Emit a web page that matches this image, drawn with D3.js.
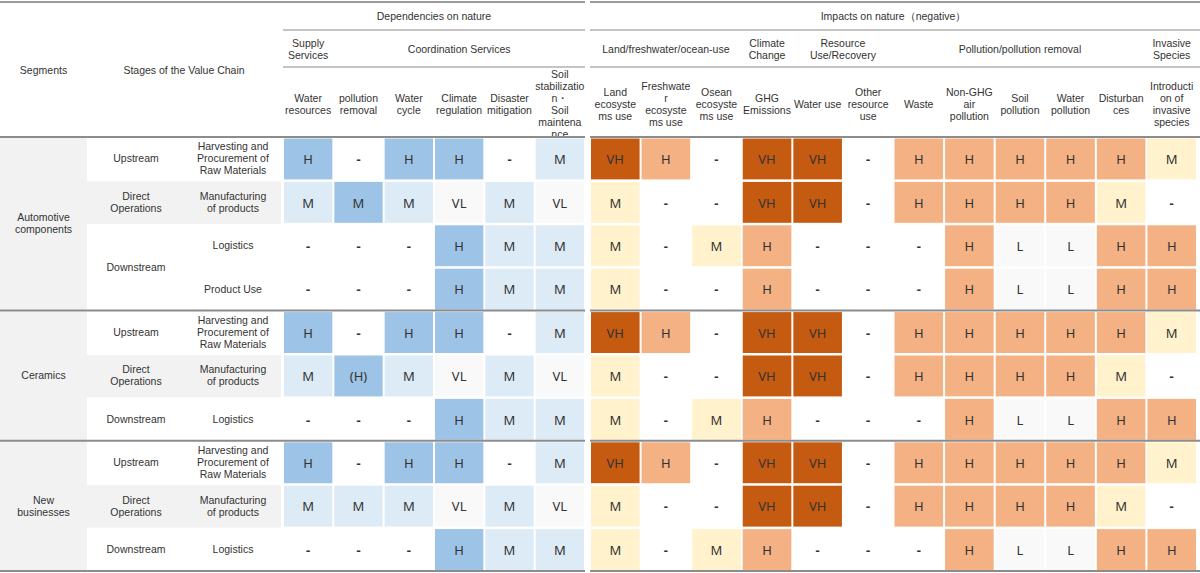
<!DOCTYPE html>
<html lang="en">
<head>
  <meta charset="UTF-8">
  <title>Dependencies and impacts on nature</title>
  <script src="https://d3js.org/d3.v7.min.js"></script>
  <style>
    body { margin: 0; background: #fff; }
    svg { display: block; }
    .lbl { font-family: "Liberation Sans", Arial, sans-serif; font-size: 10.5px; fill: #333; }
    .val { font-family: "Noto Sans", sans-serif; font-size: 13px; fill: #333; }
  </style>
</head>
<body>
  <svg width="1200" height="573"></svg>

  <script>
    // ---- data ----
    const segments = ["Automotive components", "Ceramics", "New businesses"];
    const segmentLines = [["Automotive", "components"], ["Ceramics"], ["New", "businesses"]];

    const rowSegment = [0, 0, 0, 0, 1, 1, 1, 2, 2, 2];
    const rowStage = ["Upstream", "Direct Operations", "Downstream", "Downstream",
                      "Upstream", "Direct Operations", "Downstream",
                      "Upstream", "Direct Operations", "Downstream"];
    const rowActivity = ["Harvesting and Procurement of Raw Materials", "Manufacturing of products", "Logistics", "Product Use",
                         "Harvesting and Procurement of Raw Materials", "Manufacturing of products", "Logistics",
                         "Harvesting and Procurement of Raw Materials", "Manufacturing of products", "Logistics"];

    const stageLines = {
      "Upstream": ["Upstream"],
      "Direct Operations": ["Direct", "Operations"],
      "Downstream": ["Downstream"]
    };
    const activityLines = {
      "Harvesting and Procurement of Raw Materials": ["Harvesting and", "Procurement of", "Raw Materials"],
      "Manufacturing of products": ["Manufacturing", "of products"],
      "Logistics": ["Logistics"],
      "Product Use": ["Product Use"]
    };

    const depGroups = [
      { name: ["Supply", "Services"], span: 1 },
      { name: ["Coordination Services"], span: 5 }
    ];
    const depColumns = [
      ["Water", "resources"], ["pollution", "removal"], ["Water", "cycle"],
      ["Climate", "regulation"], ["Disaster", "mitigation"],
      ["Soil", "stabilizatio", "n・", "Soil", "maintena", "nce"]
    ];

    const impGroups = [
      { name: ["Land/freshwater/ocean-use"], span: 3 },
      { name: ["Climate", "Change"], span: 1 },
      { name: ["Resource", "Use/Recovery"], span: 2 },
      { name: ["Pollution/pollution removal"], span: 5 },
      { name: ["Invasive", "Species"], span: 1 }
    ];
    const impColumns = [
      ["Land", "ecosyste", "ms use"], ["Freshwate", "r", "ecosyste", "ms use"], ["Osean", "ecosyste", "ms use"],
      ["GHG", "Emissions"], ["Water use"], ["Other", "resource", "use"],
      ["Waste"], ["Non-GHG", "air", "pollution"], ["Soil", "pollution"], ["Water", "pollution"],
      ["Disturban", "ces"], ["Introducti", "on of", "invasive", "species"]
    ];

    const depValues = [
      ["H", "-", "H", "H", "-", "M"],
      ["M", "M", "M", "VL", "M", "VL"],
      ["-", "-", "-", "H", "M", "M"],
      ["-", "-", "-", "H", "M", "M"],
      ["H", "-", "H", "H", "-", "M"],
      ["M", "(H)", "M", "VL", "M", "VL"],
      ["-", "-", "-", "H", "M", "M"],
      ["H", "-", "H", "H", "-", "M"],
      ["M", "M", "M", "VL", "M", "VL"],
      ["-", "-", "-", "H", "M", "M"]
    ];
    // cells whose shading differs from the letter shown
    const depShadeOverride = [{ row: 1, col: 1, level: "H" }];

    const impValues = [
      ["VH", "H", "-", "VH", "VH", "-", "H", "H", "H", "H", "H", "M"],
      ["M", "-", "-", "VH", "VH", "-", "H", "H", "H", "H", "M", "-"],
      ["M", "-", "M", "H", "-", "-", "-", "H", "L", "L", "H", "H"],
      ["M", "-", "-", "H", "-", "-", "-", "H", "L", "L", "H", "H"],
      ["VH", "H", "-", "VH", "VH", "-", "H", "H", "H", "H", "H", "M"],
      ["M", "-", "-", "VH", "VH", "-", "H", "H", "H", "H", "M", "-"],
      ["M", "-", "M", "H", "-", "-", "-", "H", "L", "L", "H", "H"],
      ["VH", "H", "-", "VH", "VH", "-", "H", "H", "H", "H", "H", "M"],
      ["M", "-", "-", "VH", "VH", "-", "H", "H", "H", "H", "M", "-"],
      ["M", "-", "M", "H", "-", "-", "-", "H", "L", "L", "H", "H"]
    ];

    const depColor = { "H": "#9dc3e6", "(H)": "#9dc3e6", "M": "#ddebf7", "VL": "#f9f9f9", "-": "#ffffff" };
    const impColor = { "VH": "#c55a11", "H": "#f4b183", "M": "#fff2cc", "L": "#f9f9f9", "-": "#ffffff" };

    // ---- layout ----
    const svg = d3.select("svg");
    const headTop = 2, headBottom = 137, bodyBottom = 571;
    const lvl1Bottom = 30, lvl2Bottom = 67;
    const lh = 12;

    const y = d3.scaleBand().domain(d3.range(rowSegment.length)).range([headBottom, bodyBottom]);
    const xDep = d3.scaleBand().domain(d3.range(depColumns.length)).range([283, 585]);
    const xImp = d3.scaleBand().domain(d3.range(impColumns.length)).range([590, 1197]);

    const segX = [0, 87], stageX = [87, 185], actX = [185, 281];

    function multiline(g, lines, cx, cy, cls) {
      const t = g.append("text")
        .attr("class", cls)
        .attr("text-anchor", "middle");
      const y0 = cy - (lines.length - 1) * lh / 2;
      lines.forEach((l, i) => {
        t.append("tspan").attr("x", cx).attr("y", y0 + i * lh).attr("dy", "0.35em").text(l);
      });
      return t;
    }

    // segment spans
    const segSpans = segments.map((s, i) => {
      const idx = d3.range(rowSegment.length).filter(r => rowSegment[r] === i);
      return { seg: i, first: idx[0], last: idx[idx.length - 1] };
    });

    // stage spans (consecutive equal stages inside a segment)
    const stageSpans = [];
    rowStage.forEach((s, r) => {
      const prev = stageSpans[stageSpans.length - 1];
      if (prev && prev.stage === s && rowSegment[prev.first] === rowSegment[r]) prev.last = r;
      else stageSpans.push({ stage: s, first: r, last: r });
    });

    const body = svg.append("g");

    // segment column background
    body.selectAll(".segbg").data(segSpans).enter().append("rect")
      .attr("x", segX[0]).attr("width", segX[1] - segX[0])
      .attr("y", d => y(d.first) + 1)
      .attr("height", d => y(d.last) + y.bandwidth() - y(d.first) - 1)
      .attr("fill", "#f2f2f2");

    // direct operations rows get a grey band across stage + activity
    body.selectAll(".rowbg").data(d3.range(rowSegment.length).filter(r => rowStage[r] === "Direct Operations"))
      .enter().append("rect")
      .attr("x", stageX[0]).attr("width", actX[1] - stageX[0])
      .attr("y", r => y(r) + 1).attr("height", y.bandwidth() - 1)
      .attr("fill", "#f2f2f2");

    segSpans.forEach(d => {
      const cy = (y(d.first) + y(d.last) + y.bandwidth()) / 2;
      multiline(body, segmentLines[d.seg], (segX[0] + segX[1]) / 2, cy, "lbl");
    });
    stageSpans.forEach(d => {
      const cy = (y(d.first) + y(d.last) + y.bandwidth()) / 2;
      multiline(body, stageLines[d.stage], (stageX[0] + stageX[1]) / 2, cy, "lbl");
    });
    rowActivity.forEach((a, r) => {
      multiline(body, activityLines[a], (actX[0] + actX[1]) / 2, y(r) + y.bandwidth() / 2, "lbl");
    });

    // cells
    function drawCells(values, x, colors, overrides) {
      const cells = [];
      values.forEach((row, r) => row.forEach((v, c) => {
        const o = (overrides || []).find(d => d.row === r && d.col === c);
        cells.push({ r, c, v, fill: colors[o ? o.level : v] });
      }));
      const g = svg.append("g");
      g.selectAll("rect").data(cells).enter().append("rect")
        .attr("x", d => x(d.c) + 1)
        .attr("y", d => y(d.r) + 1.5)
        .attr("width", x.bandwidth() - 2)
        .attr("height", y.bandwidth() - 2.5)
        .attr("fill", d => d.fill);
      g.selectAll("text").data(cells).enter().append("text")
        .attr("class", "val")
        .attr("text-anchor", "middle")
        .attr("x", d => x(d.c) + x.bandwidth() / 2)
        .attr("y", d => y(d.r) + y.bandwidth() / 2 + 1)
        .attr("dy", "0.35em")
        .style("font-weight", d => d.v === "-" ? "bold" : null)
        .text(d => d.v);
    }
    drawCells(depValues, xDep, depColor, depShadeOverride);
    drawCells(impValues, xImp, impColor);

    // ---- header ----
    const head = svg.append("g");
    multiline(head, ["Segments"], (segX[0] + segX[1]) / 2, 70, "lbl");
    multiline(head, ["Stages of the Value Chain"], (stageX[0] + actX[1]) / 2, 70, "lbl");

    multiline(head, ["Dependencies on nature"], (xDep.range()[0] + xDep.range()[1]) / 2, 16, "lbl");
    multiline(head, ["Impacts on nature（negative）"], (xImp.range()[0] + xImp.range()[1]) / 2, 16, "lbl");

    function drawGroups(groups, x) {
      let c = 0;
      groups.forEach(gr => {
        const x0 = x(c), x1 = x(c + gr.span - 1) + x.bandwidth();
        multiline(head, gr.name, (x0 + x1) / 2, 49, "lbl");
        c += gr.span;
      });
    }
    drawGroups(depGroups, xDep);
    drawGroups(impGroups, xImp);

    depColumns.forEach((lines, c) => multiline(head, lines, xDep(c) + xDep.bandwidth() / 2, 104, "lbl"));
    impColumns.forEach((lines, c) => multiline(head, lines, xImp(c) + xImp.bandwidth() / 2, 104, "lbl"));

    // ---- rules ----
    const parts = [[0, 585], [590, 1200]];
    const rules = svg.append("g");
    function hline(x0, x1, yy, color, w) {
      rules.append("line").attr("x1", x0).attr("x2", x1).attr("y1", yy).attr("y2", yy)
        .attr("stroke", color).attr("stroke-width", w);
    }
    parts.forEach(p => hline(p[0], p[1], headTop, "#9a9a9a", 2));
    [[283, 585], [590, 1200]].forEach(p => {
      hline(p[0], p[1], lvl1Bottom, "#b0b0b0", 1.5);
      hline(p[0], p[1], lvl2Bottom, "#b0b0b0", 1.5);
    });
    const sepRows = [headBottom].concat(segSpans.map(d => y(d.last) + y.bandwidth()));
    sepRows.forEach(yy => parts.forEach(p => hline(p[0], p[1], yy, "#8c8c8c", 2)));
  </script>
</body>
</html>
